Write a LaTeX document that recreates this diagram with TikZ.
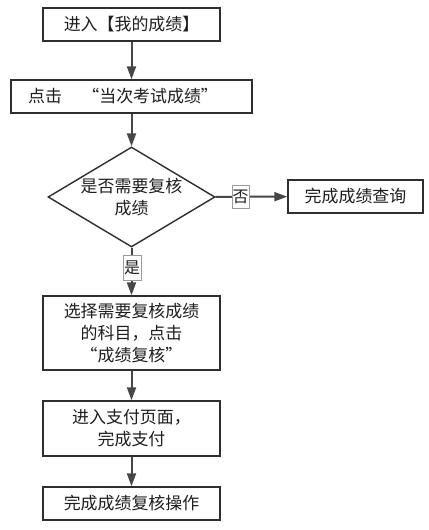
\documentclass[tikz,border=0pt]{standalone}
\usepackage{fontspec}
\setmainfont{Noto Sans CJK SC}
\usetikzlibrary{shapes.geometric,arrows.meta}
\definecolor{boxc}{HTML}{2E2E2E}
\definecolor{arrc}{HTML}{474747}
\definecolor{labc}{HTML}{9A9A9A}
\definecolor{txtc}{HTML}{1E1E1E}
\tikzset{
  stepbox/.style={draw=boxc, line width=1.4bp, fill=white, inner sep=0pt, align=center,
    text=txtc, font=\fontsize{17}{22}\selectfont},
  txt/.style={inner sep=0pt, align=center, text=txtc, font=\fontsize{17}{22}\selectfont},
  flow/.style={draw=arrc, line width=2bp, -{Triangle[length=13bp,width=9bp]}},
  yn/.style={draw=labc, line width=0.8bp, fill=white, inner sep=0pt, text=txtc,
    font=\fontsize{16}{18}\selectfont, minimum width=17bp, minimum height=23bp}
}
\begin{document}
\begin{tikzpicture}[x=1bp,y=-1bp]
\useasboundingbox[fill=white] (0,0) rectangle (428,530);
\node[stepbox, minimum width=177bp, minimum height=33bp] (b1) at (131.5,24.5) {进入【我的成绩】};
\node[stepbox, minimum width=241bp, minimum height=33bp] (b2) at (131.5,96.5) {};
\node[txt, anchor=west] (b2t) at (28,96.5) {点击\hspace{1.2em}“当次考试成绩”};
\node[draw=boxc, line width=1.4bp, fill=white, diamond, inner sep=0pt, minimum width=167bp, minimum height=100bp] (d) at (131.5,197) {};
\node[txt] (dt) at (d.center) {是否需要复核\\成绩};
\node[stepbox, minimum width=135bp, minimum height=33bp] (r) at (355.5,196.5) {完成成绩查询};
\node[stepbox, minimum width=177bp, minimum height=74bp] (b3) at (131.5,333) {选择需要复核成绩\\的科目，点击\\“成绩复核”};
\node[stepbox, minimum width=177bp, minimum height=55bp] (b4) at (131.5,428.5) {进入支付页面，\\完成支付};
\node[stepbox, minimum width=177bp, minimum height=33bp] (b5) at (131.5,503.5) {完成成绩复核操作};
\draw[flow] (b1) -- (b2);
\draw[flow] (b2) -- (d);
\draw[flow] (d) -- (r);
\draw[flow] (d) -- (b3);
\draw[flow] (b3) -- (b4);
\draw[flow] (b4) -- (b5);
\node[yn] (no) at (240.5,196.5) {否};
\node[yn, minimum width=18bp, minimum height=25bp] (yes) at (132,267.5) {是};
\end{tikzpicture}
\end{document}
